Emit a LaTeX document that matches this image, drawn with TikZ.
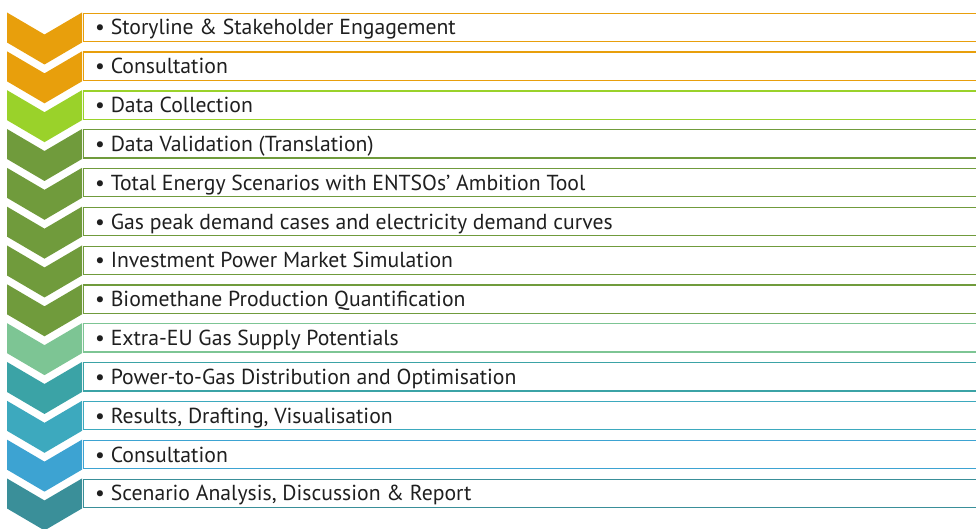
\documentclass[tikz,border=0pt]{standalone}
\usepackage{fontspec}
\setmainfont{PT Sans}
\definecolor{cOrange}{HTML}{E89F0C}
\definecolor{cLime}{HTML}{9AD22A}
\definecolor{cOlive}{HTML}{709B3C}
\definecolor{cMint}{HTML}{7DC594}
\definecolor{cTeal}{HTML}{3BA3A6}
\definecolor{cTealBlue}{HTML}{3DA9BE}
\definecolor{cBlue}{HTML}{3DA3D2}
\definecolor{cDark}{HTML}{3A8F99}
\tikzset{
  rowbox/.style={draw=#1, line width=1.3pt, fill=white},
  chev/.style={fill=#1, draw=none},
  rowtext/.style={anchor=base west, inner sep=0pt, font=\fontsize{21.7}{23}\selectfont, text=black!88},
}
\begin{document}
\begin{tikzpicture}[x=1pt,y=-1pt]
\useasboundingbox (0,0) rectangle (976,529);
\clip (0,0) rectangle (976,529);
\foreach \i/\col/\txt in {
  0/cOrange/Storyline \& Stakeholder Engagement,
  1/cOrange/Consultation,
  2/cLime/Data Collection,
  3/cOlive/Data Validation (Translation),
  4/cOlive/Total Energy Scenarios with ENTSOs’ Ambition Tool,
  5/cOlive/Gas peak demand cases and electricity demand curves,
  6/cOlive/Investment Power Market Simulation,
  7/cOlive/Biomethane Production Quantification,
  8/cMint/Extra-EU Gas Supply Potentials,
  9/cTeal/Power-to-Gas Distribution and Optimisation,
  10/cTealBlue/{Results, Drafting, Visualisation},
  11/cBlue/Consultation,
  12/cDark/{Scenario Analysis, Discussion \& Report}} {
  \pgfmathsetmacro{\yt}{12.5+38.83*\i}
  \fill[chev=\col] (7,\yt) -- (44.5,\yt+22) -- (82,\yt) -- (82,\yt+30) -- (44.5,\yt+52) -- (7,\yt+30) -- cycle;
  \draw[rowbox=\col] (83.5,\yt+0.7) rectangle (990,\yt+29);
  \node[rowtext] (t\i) at (95,\yt+22.5) {• \txt};
}
\end{tikzpicture}
\end{document}
